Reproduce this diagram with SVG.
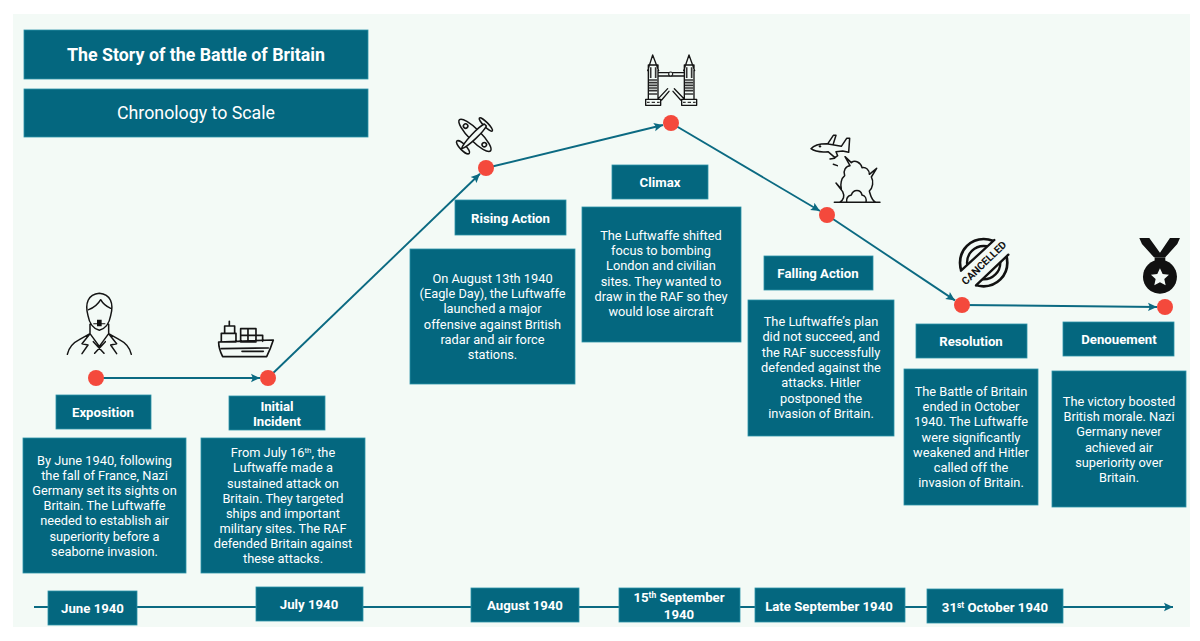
<svg xmlns="http://www.w3.org/2000/svg" width="1200" height="641" viewBox="0 0 1200 641">
<style>
.b{fill:#04677f;stroke:#2b93a8;stroke-width:.8}
text{font-family:Roboto,"Liberation Sans",sans-serif;fill:#fff;text-anchor:middle}
.t{font-size:12.8px}
.l{font-size:13.2px;font-weight:700}
.c{fill:none;stroke:#0b6a82;stroke-width:1.9}
.n{fill:#f4493c}
.i{fill:none;stroke:#151515;stroke-width:4.5;stroke-linejoin:round;stroke-linecap:round}
.f{fill:#111;stroke:none}
.g{fill:none;stroke:#333;stroke-width:5}
</style>
<defs>
<marker id="a" markerUnits="userSpaceOnUse" markerWidth="10" markerHeight="10" refX="9" refY="5" orient="auto"><path d="M0 .8L9 5L0 9.2L1.8 5Z" fill="#0b6a82"/></marker>
</defs>
<rect width="1200" height="641" fill="#fff"/>
<rect x="13" y="14" width="1177" height="613" fill="#f3faf6"/>
<g id="connectors">
<line class="c" x1="34" y1="607" x2="1173" y2="607" marker-end="url(#a)"/>
<line class="c" x1="96" y1="378" x2="260" y2="378" marker-end="url(#a)"/>
<line class="c" x1="268" y1="378" x2="480" y2="173.8" marker-end="url(#a)"/>
<line class="c" x1="486" y1="168" x2="663" y2="125" marker-end="url(#a)"/>
<line class="c" x1="671" y1="123" x2="820" y2="211" marker-end="url(#a)"/>
<line class="c" x1="827" y1="215" x2="955" y2="300.4" marker-end="url(#a)"/>
<line class="c" x1="962" y1="305" x2="1157" y2="307" marker-end="url(#a)"/>
</g>
<g id="title"><rect class="b" x="24" y="30" width="344" height="49"/><text x="196" y="61" font-size="17.8" font-weight="700">The Story of the Battle of Britain</text></g>
<g id="subtitle"><rect class="b" x="24" y="89" width="344" height="48"/><text x="196" y="119" font-size="17.8">Chronology to Scale</text></g>

<g id="exposition">
<g transform="translate(60 285) scale(.3333)">
<path class="i" d="M84 92C74 55 84 28 118 25C152 28 162 55 152 92C148 116 134 132 118 136C102 132 88 116 84 92ZM86 74C102 68 114 58 122 44C130 58 142 66 152 70M90 118V146L58 164C38 174 26 190 22 208M146 118V146L178 164C198 174 210 190 214 208M90 146L118 184L146 146M90 146L66 176L84 180L66 206M146 146L170 176L152 180L170 206M100 170L132 205M136 170L104 205"/>
<path class="f" d="M111 104H125V115H136V118H125V124H111V118H100V115H111Z"/>
</g>
<circle class="n" cx="96" cy="378" r="8"/>
<rect class="b" x="56" y="395" width="95" height="34"/><text class="l" x="103" y="417">Exposition</text>
<rect class="b" x="23" y="438" width="163" height="135"/>
<text class="t"><tspan x="104.5" y="464.5">By June 1940, following</tspan><tspan x="104.5" y="479.7">the fall of France, Nazi</tspan><tspan x="104.5" y="494.9">Germany set its sights on</tspan><tspan x="104.5" y="510.1">Britain. The Luftwaffe</tspan><tspan x="104.5" y="525.3">needed to establish air</tspan><tspan x="104.5" y="540.5">superiority before a</tspan><tspan x="104.5" y="555.7">seaborne invasion.</tspan></text>
</g>

<g id="initial-incident">
<g transform="translate(0 270) scale(.3333)">
<path class="i" style="stroke-width:5" d="M656 216L820 210C813 232 806 248 800 260H668C661 246 656 230 656 216ZM664 236L805 234M726 244H790M688 154V168M674 168H704V190H674ZM664 190H708V216H664ZM722 176H768V216H722ZM744 176V216M722 196H768M768 196H788V214"/>
</g>
<circle class="n" cx="268" cy="378" r="8"/>
<rect class="b" x="229" y="396" width="96" height="34"/><text class="l"><tspan x="277" y="411">Initial</tspan><tspan x="277" y="426">Incident</tspan></text>
<rect class="b" x="201" y="438" width="164" height="135"/>
<text class="t"><tspan x="283" y="457.3">From July 16<tspan dy="-4" font-size="8">th</tspan><tspan dy="4">, the</tspan></tspan><tspan x="283" y="472.4">Luftwaffe made a</tspan><tspan x="283" y="487.6">sustained attack on</tspan><tspan x="283" y="502.7">Britain. They targeted</tspan><tspan x="283" y="517.9">ships and important</tspan><tspan x="283" y="533">military sites. The RAF</tspan><tspan x="283" y="548.2">defended Britain against</tspan><tspan x="283" y="563.3">these attacks.</tspan></text>
</g>

<g id="rising-action">
<g transform="translate(400 40) scale(.3333) translate(228 283) rotate(-45) scale(1.1)">
<g class="i" style="stroke-width:4.2">
<ellipse cx="-4" cy="0" rx="16" ry="60"/>
<ellipse cx="-50" cy="0" rx="8" ry="24"/>
<ellipse cx="38" cy="0" rx="6" ry="25"/>
<path d="M-56 0C-40 -9 20 -10 36 -4V4C20 10 -40 9 -56 0Z" fill="#f3faf6"/>
<circle cx="-4" cy="-36" r="6"/>
<circle cx="-4" cy="36" r="6"/>
</g>
</g>
<circle class="n" cx="486" cy="168" r="8"/>
<rect class="b" x="455" y="200" width="111" height="35"/><text class="l" x="510.5" y="223">Rising Action</text>
<rect class="b" x="410" y="249" width="165" height="135"/>
<text class="t"><tspan x="492.5" y="283">On August 13th 1940</tspan><tspan x="492.5" y="298.2">(Eagle Day), the Luftwaffe</tspan><tspan x="492.5" y="313.4">launched a major</tspan><tspan x="492.5" y="328.6">offensive against British</tspan><tspan x="492.5" y="343.8">radar and air force</tspan><tspan x="492.5" y="359">stations.</tspan></text>
</g>

<g id="climax">
<g transform="translate(635 50) scale(.3333)">
<path class="i" style="stroke-width:4" d="M40 45H69V148H40ZM148 45H177V148H148ZM38 62L53 15L71 62M146 62L162 15L179 62M69 68H148M69 78H148M32 148H77V166H32ZM140 148H185V166H140ZM70 146L98 116M80 150L102 124M147 146L118 116M137 150L114 124"/>
<path class="g" d="M42 90H67M42 98H67M42 106H67M42 114H67M42 122H67M42 132H67M150 90H175M150 98H175M150 106H175M150 114H175M150 122H175M150 132H175M47 52V84M62 52V84M155 52V84M170 52V84"/>
<path d="M36 157H44M50 157H60M66 157H74M144 157H152M158 157H168M174 157H182" stroke="#333" stroke-width="4" fill="none"/>
<circle cx="107" cy="72" r="6" fill="#f3faf6" stroke="#222" stroke-width="3.5"/>
</g>
<circle class="n" cx="671" cy="123" r="8"/>
<rect class="b" x="612" y="165" width="96" height="34"/><text class="l" x="660" y="187">Climax</text>
<rect class="b" x="582" y="207" width="159" height="135"/>
<text class="t"><tspan x="661" y="240">The Luftwaffe shifted</tspan><tspan x="661" y="255.2">focus to bombing</tspan><tspan x="661" y="270.4">London and civilian</tspan><tspan x="661" y="285.6">sites. They wanted to</tspan><tspan x="661" y="300.8">draw in the RAF so they</tspan><tspan x="661" y="316">would lose aircraft</tspan></text>
</g>

<g id="falling-action">
<g transform="translate(800 125) scale(.3333)">
<path class="i" d="M33 71C42 60 60 56 80 56L124 64L140 40H149L146 82L128 78L108 80L113 92L105 98L84 80C62 82 42 78 33 71ZM84 55L100 31H108L100 56M90 102L104 100M100 118L112 122"/>
<circle cx="60" cy="64" r="3.5" class="f"/>
<path class="i" d="M103 232H240M118 232C132 226 134 212 128 200L108 174L124 192C120 178 124 160 134 152C128 138 138 122 150 122L135 95L154 113C165 104 182 112 186 128C198 126 208 134 208 148L230 130L214 156C222 170 218 190 208 198C212 212 214 226 228 232M140 232C138 218 146 212 154 210C160 192 182 192 186 210C196 212 200 222 198 232"/>
</g>
<circle class="n" cx="827" cy="215" r="8"/>
<rect class="b" x="764" y="256" width="109" height="34"/><text class="l" x="818" y="278">Falling Action</text>
<rect class="b" x="748" y="300" width="146" height="136"/>
<text class="t"><tspan x="821" y="326">The Luftwaffe’s plan</tspan><tspan x="821" y="341.3">did not succeed, and</tspan><tspan x="821" y="356.6">the RAF successfully</tspan><tspan x="821" y="371.9">defended against the</tspan><tspan x="821" y="387.2">attacks. Hitler</tspan><tspan x="821" y="402.5">postponed the</tspan><tspan x="821" y="417.8">invasion of Britain.</tspan></text>
</g>

<g id="resolution">
<g transform="translate(945 230) scale(.3333)">
<circle cx="116" cy="98" r="71" fill="none" stroke="#111" stroke-width="8"/>
<circle cx="116" cy="98" r="50" fill="none" stroke="#111" stroke-width="7"/>
<path d="M38 131L158 21L200 65L83 175Z" fill="#f3faf6"/>
<path d="M48 122L148 30M93 166L190 74" fill="none" stroke="#111" stroke-width="7" stroke-linecap="round"/>
</g>
<text transform="translate(986.5 265.5) rotate(-44)" font-size="10.4" font-weight="700" style="fill:#111">CANCELLED</text>
<circle class="n" cx="962" cy="305" r="8"/>
<rect class="b" x="916" y="324" width="111" height="34"/><text class="l" x="971" y="346">Resolution</text>
<rect class="b" x="904" y="369" width="134" height="136"/>
<text class="t"><tspan x="971" y="396">The Battle of Britain</tspan><tspan x="971" y="411.2">ended in October</tspan><tspan x="971" y="426.4">1940. The Luftwaffe</tspan><tspan x="971" y="441.6">were significantly</tspan><tspan x="971" y="456.8">weakened and Hitler</tspan><tspan x="971" y="472">called off the</tspan><tspan x="971" y="487.2">invasion of Britain.</tspan></text>
</g>

<g id="denouement">
<g transform="translate(780 120) scale(.3333)">
<path class="f" d="M1078 354H1108L1140 398L1170 354H1200L1192 372L1156 412H1122L1086 372Z"/>
<path class="f" d="M1124 412H1156V424H1124Z"/>
<circle cx="1140" cy="470" r="51" fill="#111"/>
<path fill="#f3faf6" d="M1140 445L1148 462L1167 464L1153 477L1157 496L1140 487L1123 496L1127 477L1113 464L1132 462Z"/>
</g>
<circle class="n" cx="1165" cy="307" r="8"/>
<rect class="b" x="1063" y="322" width="111" height="34"/><text class="l" x="1119" y="344">Denouement</text>
<rect class="b" x="1052" y="371" width="134" height="136"/>
<text class="t"><tspan x="1119" y="406">The victory boosted</tspan><tspan x="1119" y="421.2">British morale. Nazi</tspan><tspan x="1119" y="436.4">Germany never</tspan><tspan x="1119" y="451.6">achieved air</tspan><tspan x="1119" y="466.8">superiority over</tspan><tspan x="1119" y="482">Britain.</tspan></text>
</g>

<g id="date-june"><rect class="b" x="48" y="591" width="89" height="34"/><text class="l" x="92.5" y="613">June 1940</text></g>
<g id="date-july"><rect class="b" x="256" y="587" width="107" height="34"/><text class="l" x="309" y="609">July 1940</text></g>
<g id="date-august"><rect class="b" x="471" y="588" width="108" height="34"/><text class="l" x="525" y="610">August 1940</text></g>
<g id="date-15-september"><rect class="b" x="619" y="588" width="121" height="34"/><text class="l"><tspan x="679" y="602">15<tspan dy="-4" font-size="8.5">th</tspan><tspan dy="4"> September</tspan></tspan><tspan x="679" y="619">1940</tspan></text></g>
<g id="date-late-september"><rect class="b" x="755" y="588" width="150" height="34"/><text class="l" x="829" y="611">Late September 1940</text></g>
<g id="date-31-october"><rect class="b" x="927" y="589" width="136" height="34"/><text class="l" x="995" y="612">31<tspan dy="-4" font-size="8.5">st</tspan><tspan dy="4"> October 1940</tspan></text></g>
</svg>
